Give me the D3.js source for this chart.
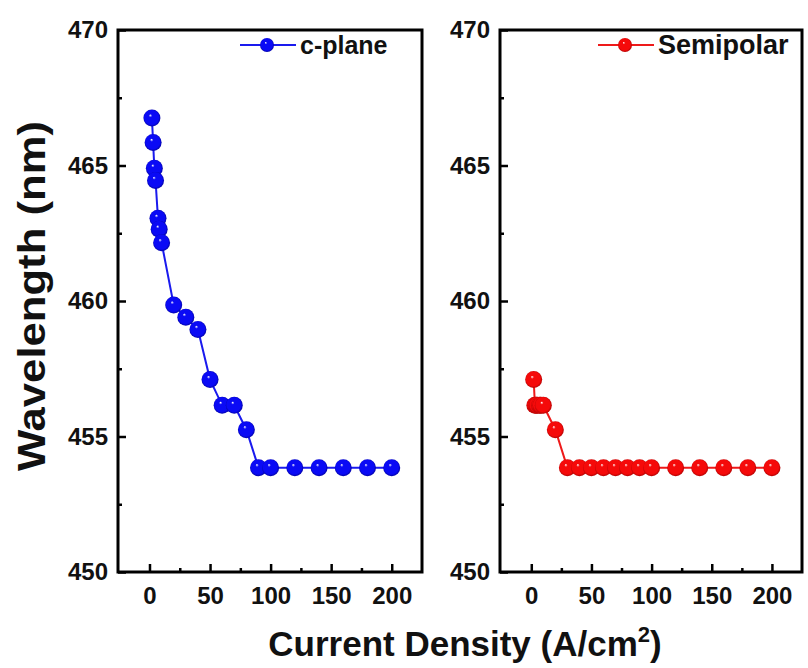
<!DOCTYPE html>
<html>
<head>
<meta charset="utf-8">
<script src="https://cdn.jsdelivr.net/npm/d3@7"></script>
<style>
  body { margin: 0; background: #fff; }
  svg text { font-family: "Liberation Sans", Arial, sans-serif; font-weight: bold; }
</style>
</head>
<body>
<div class="chart"></div>
<script>
// data
const cplaneX = [2, 3, 4, 5, 7, 8, 10, 20, 30, 40, 50, 60, 70, 80, 90, 100, 120, 140, 160, 180, 200];
const cplaneY = [466.75, 465.85, 464.9, 464.45, 463.05, 462.65, 462.15, 459.85, 459.4, 458.95, 457.1, 456.15, 456.15, 455.25, 453.85, 453.85, 453.85, 453.85, 453.85, 453.85, 453.85];
const semiX = [2, 3, 4, 5, 7, 8, 10, 20, 30, 40, 50, 60, 70, 80, 90, 100, 120, 140, 160, 180, 200];
const semiY = [457.1, 456.15, 456.15, 456.15, 456.15, 456.15, 456.15, 455.25, 453.85, 453.85, 453.85, 453.85, 453.85, 453.85, 453.85, 453.85, 453.85, 453.85, 453.85, 453.85, 453.85];
const xTicks = [0, 50, 100, 150, 200];
const xMinor = [25, 75, 125, 175];
const yTicks = [450, 455, 460, 465, 470];
const yMinor = [452.5, 457.5, 462.5, 467.5];

const svg = d3.select(".chart").append("svg").attr("width", 808).attr("height", 668);

const defs = svg.append("defs");
function ballGradient(id, base, dark) {
  const g = defs.append("radialGradient").attr("id", id)
    .attr("cx", "50%").attr("cy", "50%").attr("r", "55%")
    .attr("fx", "40%").attr("fy", "33%");
  g.append("stop").attr("offset", "0%").attr("stop-color", "#ffffff");
  g.append("stop").attr("offset", "18%").attr("stop-color", base);
  g.append("stop").attr("offset", "75%").attr("stop-color", base);
  g.append("stop").attr("offset", "100%").attr("stop-color", dark);
}
ballGradient("blueBall", "#0a0af5", "#00008a");
ballGradient("redBall", "#f50a0a", "#9a0000");

const plotTop = 30, plotBottom = 572;
const panels = [
  { left: 118, right: 422, xs: cplaneX, ys: cplaneY, color: "#1a1aee", grad: "blueBall", name: "c-plane", legX: 240 },
  { left: 500, right: 802, xs: semiX, ys: semiY, color: "#ee1a1a", grad: "redBall", name: "Semipolar", legX: 598 }
];

panels.forEach(p => {
  const x = d3.scaleLinear().domain([-26, 225]).range([p.left, p.right]);
  const y = d3.scaleLinear().domain([450, 470]).range([plotBottom, plotTop]);
  const g = svg.append("g");

  // frame
  g.append("rect")
    .attr("x", p.left).attr("y", plotTop)
    .attr("width", p.right - p.left).attr("height", plotBottom - plotTop)
    .attr("fill", "none").attr("stroke", "#000").attr("stroke-width", 3);

  // bottom ticks (inward)
  const xa = g.append("g").attr("transform", `translate(0,${plotBottom})`)
    .call(d3.axisBottom(x).tickValues(xTicks).tickSizeInner(-8).tickSizeOuter(0).tickPadding(15));
  xa.select(".domain").remove();
  xa.selectAll(".tick line").attr("stroke-width", 2.5);
  xa.selectAll(".tick text").attr("font-size", 24).attr("fill", "#111")
    .style("font-family", "Liberation Sans, Arial, sans-serif").style("font-weight", "bold");
  const xm = g.append("g").attr("transform", `translate(0,${plotBottom})`)
    .call(d3.axisBottom(x).tickValues(xMinor).tickSizeInner(-4).tickSizeOuter(0).tickFormat(""));
  xm.select(".domain").remove();
  xm.selectAll(".tick line").attr("stroke-width", 2.5);

  // left ticks (inward)
  const ya = g.append("g").attr("transform", `translate(${p.left},0)`)
    .call(d3.axisLeft(y).tickValues(yTicks).tickSizeInner(-8).tickSizeOuter(0).tickPadding(10));
  ya.select(".domain").remove();
  ya.selectAll(".tick line").attr("stroke-width", 2.5);
  ya.selectAll(".tick text").attr("font-size", 24).attr("fill", "#111")
    .style("font-family", "Liberation Sans, Arial, sans-serif").style("font-weight", "bold");
  const ym = g.append("g").attr("transform", `translate(${p.left},0)`)
    .call(d3.axisLeft(y).tickValues(yMinor).tickSizeInner(-4).tickSizeOuter(0).tickFormat(""));
  ym.select(".domain").remove();
  ym.selectAll(".tick line").attr("stroke-width", 2.5);

  const pts = p.xs.map((v, i) => [v, p.ys[i]]);
  g.append("path")
    .attr("d", d3.line().x(d => x(d[0])).y(d => y(d[1]))(pts))
    .attr("fill", "none").attr("stroke", p.color).attr("stroke-width", 2);
  g.selectAll("circle.pt").data(pts).join("circle")
    .attr("class", "pt")
    .attr("cx", d => x(d[0])).attr("cy", d => y(d[1]))
    .attr("r", 8.5).attr("fill", `url(#${p.grad})`);

  // legend
  g.append("line").attr("x1", p.legX).attr("x2", p.legX + 56)
    .attr("y1", 45).attr("y2", 45).attr("stroke", p.color).attr("stroke-width", 2);
  g.append("circle").attr("cx", p.legX + 27).attr("cy", 45).attr("r", 7)
    .attr("fill", `url(#${p.grad})`);
  g.append("text").attr("x", p.legX + 60).attr("y", 54)
    .attr("font-size", p.name === "c-plane" ? 25 : 27).attr("fill", "#111").text(p.name);
});

// axis titles
svg.append("text")
  .attr("transform", "translate(45,296) rotate(-90)")
  .attr("text-anchor", "middle").attr("font-size", 38).attr("fill", "#111")
  .attr("textLength", 350).attr("lengthAdjust", "spacingAndGlyphs")
  .text("Wavelength (nm)");

const xt = svg.append("text")
  .attr("x", 465).attr("y", 656)
  .attr("text-anchor", "middle").attr("font-size", 35).attr("fill", "#111");
xt.append("tspan").text("Current Density (A/cm");
xt.append("tspan").attr("font-size", 22).attr("dy", -14).text("2");
xt.append("tspan").attr("dy", 14).text(")");
</script>
</body>
</html>
